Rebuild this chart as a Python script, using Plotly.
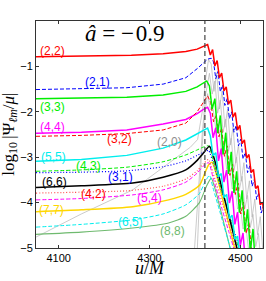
import plotly.graph_objects as go

# ---------------- data (u/M, log10|Psi_lm/mu|) ----------------
u_22 = [4050, 4150, 4260, 4330, 4380, 4405, 4418, 4428,
        4434, 4439, 4444, 4449, 4454, 4459, 4464, 4469, 4474, 4479, 4484, 4489, 4494,
        4499, 4504, 4509, 4514, 4519, 4524, 4529, 4534, 4539, 4544, 4549, 4554]
v_22 = [-0.79, -0.775, -0.757, -0.72, -0.67, -0.62, -0.57, -0.52,
        -0.75, -0.63, -0.99, -0.87, -1.25, -1.15, -1.54, -1.45, -1.83, -1.74, -2.12, -2.02, -2.40,
        -2.30, -2.70, -2.62, -3.02, -2.94, -3.34, -3.27, -3.69, -3.63, -4.05, -3.99, -4.41]

u_21 = [4050, 4150, 4250, 4330, 4380, 4405, 4418, 4428, 4436,
        4441, 4446, 4451, 4456, 4461, 4466, 4471, 4476, 4481, 4486, 4491, 4496,
        4501, 4506, 4511, 4516, 4521, 4526, 4531, 4536, 4541, 4546, 4551]
v_21 = [-1.51, -1.49, -1.47, -1.39, -1.25, -1.05, -0.92, -0.84, -0.82,
        -0.90, -1.27, -1.11, -1.56, -1.41, -1.86, -1.71, -2.15, -2.00, -2.45, -2.30, -2.75,
        -2.60, -3.04, -2.89, -3.34, -3.19, -3.64, -3.49, -3.93, -3.78, -4.23, -4.08]

u_33 = [4050, 4150, 4250, 4330, 4380, 4405, 4418, 4426,
        4432, 4438, 4444, 4450, 4456, 4462, 4468, 4474, 4480, 4486, 4492, 4498,
        4504, 4510, 4516, 4522, 4528, 4534]
v_33 = [-1.71, -1.70, -1.68, -1.63, -1.55, -1.45, -1.36, -1.32,
        -1.43, -1.94, -1.71, -2.47, -2.08, -2.94, -2.46, -3.37, -2.88, -3.79, -3.31, -4.22,
        -3.73, -4.64, -4.15, -5.07, -4.58, -5.49]

u_32 = [4050, 4150, 4250, 4330, 4380, 4405, 4418, 4428,
        4435, 4441, 4447, 4453, 4459, 4465, 4471, 4477, 4483, 4489, 4495, 4501,
        4507, 4513, 4519, 4525]
v_32 = [-2.54, -2.52, -2.48, -2.40, -2.25, -2.00, -1.80, -1.65,
        -1.80, -2.22, -2.08, -2.55, -2.35, -2.98, -2.75, -3.40, -3.15, -3.82, -3.57, -4.25,
        -3.99, -4.68, -4.42, -5.10]

u_44 = [4050, 4150, 4250, 4330, 4380, 4405, 4418, 4428,
        4434, 4440, 4446, 4452, 4458, 4464, 4470, 4476, 4482, 4488, 4494, 4500, 4506, 4512]
v_44 = [-2.47, -2.45, -2.40, -2.27, -2.17, -2.04, -1.95, -1.90,
        -2.03, -2.57, -2.35, -3.08, -2.81, -3.55, -3.28, -4.01, -3.75, -4.48, -4.21, -4.94, -4.67, -5.41]

u_20 = [4050, 4150, 4263, 4340, 4390, 4406, 4417, 4424, 4430,
        4436, 4442, 4448, 4454, 4460, 4466, 4472, 4478, 4484, 4490, 4496,
        4502, 4508, 4514, 4520, 4526, 4532, 4538, 4544, 4550, 4556]
v_20 = [-4.76, -4.25, -3.72, -3.15, -2.78, -2.61, -1.95, -1.25, -0.85,
        -0.95, -1.55, -1.14, -1.94, -1.54, -2.34, -1.94, -2.73, -2.33, -3.13, -2.73,
        -3.53, -3.12, -3.92, -3.52, -4.32, -3.92, -4.71, -4.31, -5.11, -4.71]

u_grey_b = [4398, 4408, 4416, 4424, 4432,
            4438, 4444, 4450, 4456, 4462, 4468, 4474, 4480, 4486, 4492,
            4498, 4504, 4510, 4516, 4522, 4528, 4534, 4540, 4546]
v_grey_b = [-5.2, -3.6, -2.5, -1.6, -1.15,
            -1.61, -1.32, -2.03, -1.74, -2.45, -2.16, -2.87, -2.58, -3.29, -3.00,
            -3.71, -3.42, -4.13, -3.84, -4.55, -4.26, -4.97, -4.68, -5.39]

u_grey_c = [4405, 4413, 4420, 4428,
            4434, 4440, 4446, 4452, 4458, 4464, 4470, 4476, 4482, 4488,
            4494, 4500, 4506, 4512, 4518, 4524, 4530]
v_grey_c = [-5.1, -3.2, -2.2, -1.6,
            -1.95, -1.93, -2.37, -2.30, -2.82, -2.74, -3.26, -3.18, -3.70, -3.62,
            -4.14, -4.06, -4.58, -4.50, -5.02, -4.94, -5.40]

u_55 = [4050, 4150, 4250, 4330, 4380, 4405, 4418, 4428,
        4434, 4440, 4446, 4452, 4458, 4464, 4470, 4476, 4482, 4488, 4494, 4500]
v_55 = [-3.09, -3.05, -2.96, -2.80, -2.62, -2.48, -2.40, -2.36,
        -2.53, -2.97, -2.90, -3.43, -3.36, -3.89, -3.82, -4.35, -4.28, -4.81, -4.74, -5.27]

u_43 = [4050, 4150, 4250, 4330, 4380, 4405, 4418, 4430, 4440, 4455, 4470, 4485, 4497]
v_43 = [-3.31, -3.28, -3.22, -3.10, -2.95, -2.84, -2.78, -2.75, -3.05, -3.60, -4.10, -4.60, -5.05]

u_31 = [4050, 4150, 4250, 4330, 4380, 4405, 4418, 4430, 4440, 4460, 4480, 4500]
v_31 = [-3.34, -3.33, -3.30, -3.21, -3.08, -2.96, -2.90, -2.85, -3.12, -3.78, -4.42, -5.05]

u_66 = [4050, 4150, 4263, 4330, 4380, 4405, 4418, 4432, 4440, 4450, 4460, 4470, 4480, 4490, 4495]
v_66 = [-3.67, -3.63, -3.57, -3.44, -3.28, -3.07, -2.92, -2.76, -2.95, -3.30, -3.70, -4.10, -4.50, -4.90, -5.10]

u_42 = [4050, 4150, 4250, 4330, 4380, 4405, 4418, 4430, 4440, 4460, 4480, 4492]
v_42 = [-3.79, -3.77, -3.74, -3.64, -3.48, -3.30, -3.15, -3.05, -3.35, -4.00, -4.65, -5.05]

u_54 = [4050, 4150, 4263, 4330, 4380, 4405, 4418, 4430, 4440, 4460, 4475, 4487]
v_54 = [-3.94, -3.91, -3.83, -3.72, -3.55, -3.35, -3.20, -3.12, -3.45, -4.15, -4.65, -5.05]

u_77 = [4050, 4150, 4263, 4342, 4380, 4410, 4422, 4430, 4438, 4445, 4455, 4465, 4475, 4485, 4490]
v_77 = [-4.20, -4.16, -4.09, -3.94, -3.82, -3.62, -3.35, -3.17, -3.11, -3.30, -3.68, -4.08, -4.48, -4.90, -5.10]

u_65 = [4050, 4150, 4263, 4330, 4380, 4410, 4422, 4432, 4440, 4455, 4470, 4479]
v_65 = [-4.54, -4.48, -4.38, -4.25, -4.05, -3.80, -3.55, -3.40, -3.68, -4.20, -4.72, -5.05]

u_88 = [4050, 4150, 4263, 4342, 4380, 4410, 4425, 4436, 4445, 4455, 4465, 4475, 4480]
v_88 = [-4.70, -4.65, -4.56, -4.45, -4.30, -4.00, -3.65, -3.46, -3.72, -4.10, -4.50, -4.90, -5.10]

peak_time = 4422

mode_labels = ["(2,2)", "(2,1)", "(3,3)", "(4,4)", "(3,2)", "(2,0)", "(5,5)", "(4,3)",
               "(3,1)", "(6,6)", "(4,2)", "(5,4)", "(7,7)", "(6,5)", "(8,8)"]
label_u = [4087, 4186, 4087, 4087, 4235, 4345, 4089, 4166, 4237, 4090, 4177, 4300, 4085, 4259, 4350]
label_v = [-0.67, -1.35, -1.90, -2.33, -2.61, -2.66, -2.99, -3.19, -3.44, -3.54, -3.80, -3.89, -4.16, -4.43, -4.62]

x_ticks = [4100, 4300, 4500]
y_ticks = [-1, -2, -3, -4, -5]

# ---------------- styles ----------------
RED, BLUE, GREEN, MAG, CYAN = "#ff0000", "#0000ff", "#00ee00", "#ff00ff", "#00eeee"
BLACK, GOLD, SAGE, GREY = "#000000", "#ffd700", "#6fba6f", "#b4b4b4"

traces = [
    (u_grey_c, v_grey_c, GREY, "solid", 0.7, False),
    (u_grey_b, v_grey_b, GREY, "solid", 0.7, False),
    (u_20, v_20, GREY, "solid", 0.7, False),
    (u_88, v_88, SAGE, "solid", 1.1, True),
    (u_77, v_77, GOLD, "solid", 1.5, True),
    (u_65, v_65, CYAN, "4px,2px", 1.0, True),
    (u_54, v_54, MAG, "4px,2px", 1.0, True),
    (u_42, v_42, "#ff5050", "1px,2px", 1.2, True),
    (u_31, v_31, BLUE, "1px,2px", 1.2, True),
    (u_43, v_43, GREEN, "4px,2px", 1.0, True),
    (u_66, v_66, BLACK, "solid", 1.5, True),
    (u_55, v_55, CYAN, "solid", 1.5, False),
    (u_44, v_44, MAG, "solid", 1.5, False),
    (u_32, v_32, RED, "4px,2px", 1.0, False),
    (u_33, v_33, GREEN, "solid", 1.5, False),
    (u_21, v_21, BLUE, "4px,2px", 1.0, False),
    (u_22, v_22, RED, "solid", 1.5, False),
]
label_colors = [RED, BLUE, GREEN, MAG, RED, "#909090", CYAN, GREEN,
                BLUE, BLACK, RED, MAG, GOLD, CYAN, SAGE]

fig = go.Figure()
for u, v, col, dash, w, smooth in traces:
    fig.add_trace(go.Scatter(
        x=u, y=v, mode="lines",
        line=dict(color=col, dash=dash, width=w,
                  shape="spline" if smooth else "linear", smoothing=0.6),
        hoverinfo="skip", showlegend=False, cliponaxis=True))

fig.add_trace(go.Scatter(x=[peak_time, peak_time], y=[-5, 0], mode="lines",
                         line=dict(color="#444444", dash="5px,3px", width=1.2),
                         hoverinfo="skip", showlegend=False))

for txt, lu, lv, col in zip(mode_labels, label_u, label_v, label_colors):
    fig.add_annotation(x=lu, y=lv, text=txt, showarrow=False,
                       font=dict(family="Liberation Sans, Arial", size=12, color=col),
                       xanchor="center", yanchor="middle")

fig.add_annotation(x=0.39, y=0.945, xref="paper", yref="paper",
                   text="<i>â</i>\u00a0=\u00a0\u2212\u200a0.9", showarrow=False,
                   font=dict(family="Liberation Serif, Times New Roman, serif", size=23, color="black"),
                   xanchor="center", yanchor="middle")

fig.add_annotation(x=-0.118, y=0.50, xref="paper", yref="paper", textangle=-90,
                   text="log<sub>10</sub>\u2009|\u03a8<sub><i>\u2113m</i></sub>/<i>\u03bc</i>|",
                   showarrow=False,
                   font=dict(family="Liberation Serif, Times New Roman, serif", size=17, color="black"),
                   xanchor="center", yanchor="middle")

fig.add_annotation(x=0.50, y=-0.09, xref="paper", yref="paper",
                   text="<i>u</i>/<i>M</i>", showarrow=False,
                   font=dict(family="Liberation Serif, Times New Roman, serif", size=18, color="black"),
                   xanchor="center", yanchor="middle")

axis_common = dict(showgrid=False, zeroline=False, showline=True, linecolor="#333333",
                   linewidth=1, mirror="ticks", ticks="inside", ticklen=3,
                   tickcolor="#333333",
                   tickfont=dict(family="Liberation Sans, Arial", size=11, color="black"))
fig.update_xaxes(range=[4050, 4550], tickvals=x_ticks,
                 ticktext=[str(t) for t in x_ticks], **axis_common)
fig.update_yaxes(range=[-5, 0], tickvals=y_ticks,
                 ticktext=["\u2212" + str(-t) for t in y_ticks], **axis_common)

fig.update_layout(width=266, height=281, margin=dict(l=36, r=3, t=21, b=33),
                  paper_bgcolor="white", plot_bgcolor="white")

fig.write_html("out.html", config={"displayModeBar": False},
               post_script="document.body.style.margin='0';document.body.style.overflow='hidden';")
